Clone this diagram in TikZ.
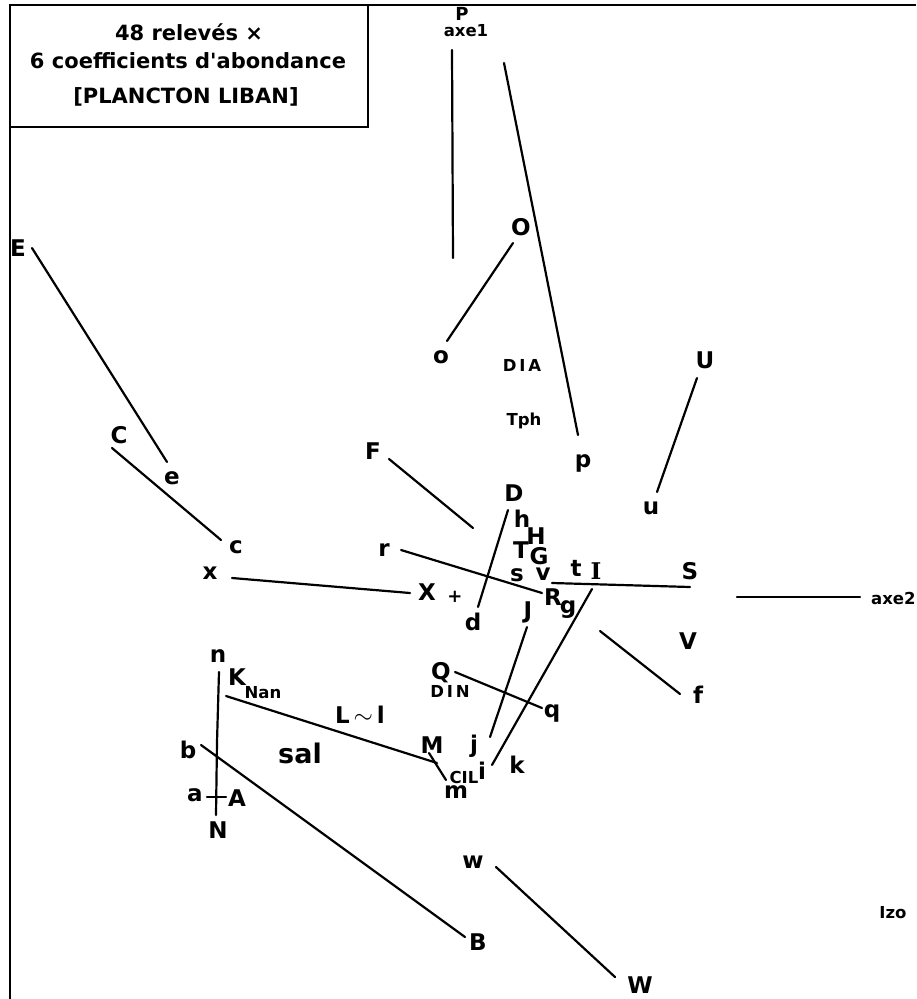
\documentclass[tikz,border=0pt]{standalone}
\usepackage{fontspec}
\setmainfont{DejaVu Sans}[Ligatures=TeXOff]
\newfontfamily\serifbold{DejaVu Serif}
\begin{document}
\begin{tikzpicture}[x=1pt,y=-1pt,
  lbl/.style={font=\bfseries\fontsize{23}{23}\selectfont, inner sep=0pt},
  big/.style={font=\bfseries\fontsize{27}{27}\selectfont, inner sep=0pt},
  sm/.style={font=\bfseries\fontsize{16.5}{16.5}\selectfont, inner sep=0pt},
  ttl/.style={font=\bfseries\fontsize{21}{21}\selectfont, inner sep=0pt},
  ln/.style={line width=2.2pt, line cap=round}]
\useasboundingbox (0,0) rectangle (916,999);
\fill[white] (0,0) rectangle (916,999);
% frame and title box
\coordinate (frBL) at (10,999);
\coordinate (frTL) at (10,5);
\coordinate (frTR) at (916,5);
\coordinate (boxBR) at (368,127);
\draw[line width=2.4pt] (frBL) -- (frTL) -- (frTR);
\draw[line width=2.4pt] (frTL) rectangle (boxBR);
\node[ttl] (t1) at (189,32) {48 relevés ×};
\node[ttl] (t2) at (188,61) {6 coefficients d'abondance};
\node[ttl] (t3) at (186,97) {{[}PLANCTON LIBAN{]}};
% labels
\node[font=\bfseries\fontsize{18}{18}\selectfont, inner sep=0pt] (P) at (462,14) {P};
\node[sm] (axe1) at (466,31) {axe1};
\node[lbl] (O) at (521,227) {O};
\node[lbl] (o) at (441,357) {o};
\node[sm] (DIA) at (522,365) {D\,I\,A};
\node[sm] (Tph) at (524,421) {Tph};
\node[lbl] (p) at (583,463) {p};
\node[lbl] (U) at (705,360) {U};
\node[lbl] (u) at (651,508) {u};
\node[lbl] (D) at (514,493) {D};
\node[lbl] (F) at (373,451) {F};
\node[lbl] (h) at (522,519) {h};
\node[lbl] (H) at (536,536) {H};
\node[lbl] (T) at (521,550) {T};
\node[lbl] (G) at (539,556) {G};
\node[lbl] (s) at (517,575) {s};
\node[lbl] (v) at (543,574) {v};
\node[lbl] (t) at (576,568) {t};
\node[lbl, font=\serifbold\bfseries\fontsize{23}{23}\selectfont] (I) at (596,571) {I};
\node[lbl] (r) at (384,550) {r};
\node[lbl] (R) at (553,597) {R};
\node[lbl] (g) at (568,610) {g};
\node[lbl] (S) at (690,571) {S};
\node[sm, anchor=west] (axe2) at (871,598) {axe2};
\node[lbl] (V) at (688,641) {V};
\node[lbl] (X) at (427,592) {X};
\node[font=\bfseries\fontsize{18}{18}\selectfont, inner sep=0pt] (orig) at (455,597) {+};
\node[lbl] (x) at (210,573) {x};
\node[lbl] (c) at (236,547) {c};
\node[lbl] (C) at (119,435) {C};
\node[lbl] (e) at (172,478) {e};
\node[lbl] (E) at (18,248) {E};
\node[lbl] (J) at (528,612) {J};
\node[lbl] (d) at (473,622) {d};
\node[lbl] (Q) at (441,673) {Q};
\node[sm] (DIN) at (450,691) {D\,I\,N};
\node[lbl] (q) at (552,713) {q};
\node[lbl] (f) at (698,695) {f};
\node[lbl] (j) at (474,746) {j};
\node[lbl] (k) at (517,765) {k};
\node[sm] (CIL) at (464,777) {CIL};
\node[lbl] (i) at (482,771) {i};
\node[lbl] (m) at (456,792) {m};
\node[lbl] (M) at (432,745) {M};
\node[lbl] (n) at (218,656) {n};
\node[lbl] (K) at (237,677) {K};
\node[sm] (Nan) at (263,693) {Nan};
\node[lbl] (Ll) at (360,715) {L\,$\sim$\,l};
\node[big] (sal) at (300,753) {sal};
\node[lbl] (b) at (188,750) {b};
\node[lbl] (a) at (195,795) {a};
\node[lbl] (A) at (237,798) {A};
\node[lbl] (N) at (218,830) {N};
\node[lbl] (w) at (473,862) {w};
\node[lbl] (B) at (478,942) {B};
\node[lbl] (W) at (640,985) {W};
\node[sm] (Izo) at (893,913) {Izo};
% line end points
\coordinate (ax1a) at (452,50);  \coordinate (ax1b) at (453,258);
\coordinate (Pa) at (504,63);    \coordinate (Pb) at (578,435);
\coordinate (Oa) at (513,243);   \coordinate (Ob) at (447,341);
\coordinate (Ua) at (697,378);   \coordinate (Ub) at (657,492);
\coordinate (Fa) at (389,459);   \coordinate (Fb) at (473,528);
\coordinate (Da) at (508,510);   \coordinate (Db) at (478,607);
\coordinate (ra) at (401,550);   \coordinate (rb) at (542,593);
\coordinate (ta) at (552,583);   \coordinate (tb) at (690,587);
\coordinate (ax2a) at (737,597); \coordinate (ax2b) at (860,597);
\coordinate (Ia) at (592,589);   \coordinate (Ib) at (492,765);
\coordinate (Ja) at (527,627);   \coordinate (Jb) at (490,737);
\coordinate (Qa) at (455,672);   \coordinate (Qb) at (542,708);
\coordinate (fa) at (600,631);   \coordinate (fb) at (680,694);
\coordinate (Ka) at (226,696);   \coordinate (Kb) at (437,763);
\coordinate (Ma) at (429,753);   \coordinate (Mb) at (446,780);
\coordinate (na) at (219,672);   \coordinate (nm) at (217,742); \coordinate (nb) at (216,815);
\coordinate (ba) at (201,745);   \coordinate (bb) at (465,937);
\coordinate (aa) at (207,797);   \coordinate (ab) at (226,797);
\coordinate (wa) at (496,867);   \coordinate (wb) at (615,977);
\coordinate (Ea) at (32,248);    \coordinate (Eb) at (167,462);
\coordinate (Ca) at (112,448);   \coordinate (Cb) at (221,540);
\coordinate (xa) at (232,578);   \coordinate (xb) at (410,593);
% connectors
\draw[ln] (ax1a) -- (ax1b);
\draw[ln] (Pa) -- (Pb);
\draw[ln] (Oa) -- (Ob);
\draw[ln] (Ua) -- (Ub);
\draw[ln] (Fa) -- (Fb);
\draw[ln] (Da) -- (Db);
\draw[ln] (ra) -- (rb);
\draw[ln] (ta) -- (tb);
\draw[ln] (ax2a) -- (ax2b);
\draw[ln] (Ia) -- (Ib);
\draw[ln] (Ja) -- (Jb);
\draw[ln] (Qa) -- (Qb);
\draw[ln] (fa) -- (fb);
\draw[ln] (Ka) -- (Kb);
\draw[ln] (Ma) -- (Mb);
\draw[ln] (na) -- (nm) -- (nb);
\draw[ln] (ba) -- (bb);
\draw[ln] (aa) -- (ab);
\draw[ln] (wa) -- (wb);
\draw[ln] (Ea) -- (Eb);
\draw[ln] (Ca) -- (Cb);
\draw[ln] (xa) -- (xb);
\end{tikzpicture}
\end{document}
